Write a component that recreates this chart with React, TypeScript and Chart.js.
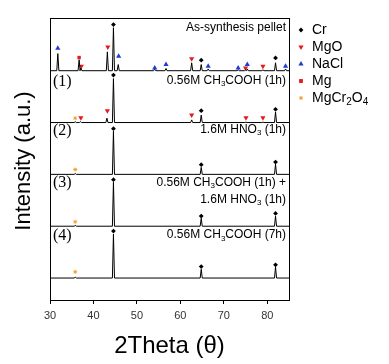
import React, { useEffect, useRef } from "react";
import { Chart, registerables } from "chart.js";

Chart.register(...registerables);

// ---------- data ----------
const xMin = 30;
const xMax = 85;
const xTickValues = [30, 40, 50, 60, 70, 80];
const yMin = -50;
const yMax = 592;

const sampleLabels = [
  ["As-synthesis pellet"],
  ["0.56M CH₃COOH (1h)"],
  ["1.6M HNO₃ (1h)"],
  ["0.56M CH₃COOH (1h) +", "1.6M HNO₃ (1h)"],
  ["0.56M CH₃COOH (7h)"],
];
const sampleNumbers = ["", "(1)", "(2)", "(3)", "(4)"];
const sampleOffsets = [472, 354, 236, 118, 0];

// peaks: [2theta, relative intensity]
const peaksAsSynth: [number, number][] = [
  [31.8, 39], [36.7, 25], [37.1, 6], [43.2, 43], [44.6, 98], [45.7, 14],
  [54.1, 3], [56.7, 5], [62.6, 18], [64.8, 14], [66.4, 4], [73.3, 2],
  [75.0, 2], [75.4, 4], [79.0, 2], [81.9, 18], [84.2, 4],
];
const peaksS1: [number, number][] = [
  [35.8, 2], [37.0, 2], [43.1, 10], [44.6, 100], [62.6, 6], [64.8, 17],
  [75.1, 1], [79.0, 1], [81.9, 24],
];
const peaksS2: [number, number][] = [[35.8, 2], [44.6, 98], [64.8, 16], [81.9, 23]];
const peaksS3: [number, number][] = [[35.8, 2], [44.6, 100], [64.8, 18], [81.9, 23]];
const peaksS4: [number, number][] = [[35.8, 2], [44.6, 100], [64.8, 20], [81.9, 25]];
const samplePeaks = [peaksAsSynth, peaksS1, peaksS2, peaksS3, peaksS4];

// phase markers: [sample index, 2theta, height above baseline]
const markersCr: [number, number, number][] = [
  [0, 44.6, 105], [0, 64.8, 24], [0, 81.9, 29],
  [1, 44.6, 108], [1, 64.8, 27], [1, 81.9, 30],
  [2, 44.6, 104], [2, 64.8, 22], [2, 81.9, 28],
  [3, 44.6, 106], [3, 64.8, 23], [3, 81.9, 29],
  [4, 44.6, 107], [4, 64.8, 26], [4, 81.9, 30],
];
const markersMgO: [number, number, number][] = [
  [0, 37.2, 10], [0, 43.3, 54], [0, 62.6, 27], [0, 75.0, 6], [0, 79.0, 10],
  [1, 37.1, 11], [1, 43.2, 27], [1, 62.6, 17], [1, 75.1, 11], [1, 79.0, 11],
];
const markersNaCl: [number, number, number][] = [
  [0, 31.8, 51], [0, 45.8, 33], [0, 54.1, 6], [0, 56.7, 14], [0, 66.4, 10],
  [0, 73.3, 6], [0, 75.4, 14], [0, 84.2, 10],
];
const markersMg: [number, number, number][] = [[0, 36.7, 30]];
const markersMgCr2O4: [number, number, number][] = [
  [1, 35.8, 10], [2, 35.8, 11], [3, 35.8, 10], [4, 35.8, 14],
];

const phaseNames = ["Cr", "MgO", "NaCl", "Mg", "MgCr₂O₄"];
const phaseColors = ["#000000", "#e41a1c", "#1f3bd1", "#e41a1c", "#f5a033"];
const phaseStyles = ["rectRot", "triangle", "triangle", "rect", "star"];
const phaseRotations = [0, 180, 0, 0, 0];
const phaseRadii = [2.4, 3, 3, 2.4, 2];
const phaseMarkers = [markersCr, markersMgO, markersNaCl, markersMg, markersMgCr2O4];

// ---------- helpers ----------
const PEAK_HALF_WIDTH = 0.24;
const SANS = '"Liberation Sans", Arial, sans-serif';
const SERIF = '"Liberation Serif", "Times New Roman", serif';

function buildPattern(peaks: [number, number][], offset: number) {
  const pts: { x: number; y: number }[] = [{ x: xMin, y: offset }];
  [...peaks].sort((a, b) => a[0] - b[0]).forEach(([p, h]) => {
    pts.push({ x: p - PEAK_HALF_WIDTH, y: offset });
    pts.push({ x: p, y: offset + h });
    pts.push({ x: p + PEAK_HALF_WIDTH, y: offset });
  });
  pts.push({ x: xMax, y: offset });
  return pts;
}

const SUBS = "₀₁₂₃₄₅₆₇₈₉";
function splitSubs(s: string) {
  const segs: { t: string; sub: boolean }[] = [];
  for (const ch of s) {
    const idx = SUBS.indexOf(ch);
    const sub = idx >= 0;
    const c = sub ? String(idx) : ch;
    const last = segs[segs.length - 1];
    if (last && last.sub === sub) last.t += c;
    else segs.push({ t: c, sub });
  }
  return segs;
}

function drawRich(
  ctx: CanvasRenderingContext2D,
  s: string,
  x: number,
  y: number,
  size: number,
  align: "left" | "right"
) {
  const segs = splitSubs(s);
  const subSize = Math.round(size * 0.68);
  const widths = segs.map((g) => {
    ctx.font = `${g.sub ? subSize : size}px ${SANS}`;
    return ctx.measureText(g.t).width;
  });
  const total = widths.reduce((a, b) => a + b, 0);
  let cx = align === "right" ? x - total : x;
  ctx.textAlign = "left";
  ctx.textBaseline = "middle";
  segs.forEach((g, i) => {
    ctx.font = `${g.sub ? subSize : size}px ${SANS}`;
    ctx.fillText(g.t, cx, g.sub ? y + size * 0.3 : y);
    cx += widths[i];
  });
}

function drawPointStyle(
  ctx: CanvasRenderingContext2D,
  style: string,
  r: number,
  x: number,
  y: number,
  rot: number
) {
  ctx.save();
  ctx.translate(x, y);
  ctx.rotate((rot * Math.PI) / 180);
  ctx.beginPath();
  if (style === "rectRot") {
    ctx.moveTo(0, -r);
    ctx.lineTo(r, 0);
    ctx.lineTo(0, r);
    ctx.lineTo(-r, 0);
    ctx.closePath();
    ctx.fill();
  } else if (style === "triangle") {
    ctx.moveTo(0, -r);
    ctx.lineTo(r * 0.866, r * 0.5);
    ctx.lineTo(-r * 0.866, r * 0.5);
    ctx.closePath();
    ctx.fill();
  } else if (style === "rect") {
    ctx.rect(-r * 0.8, -r * 0.8, r * 1.6, r * 1.6);
    ctx.fill();
  } else if (style === "star") {
    for (let k = 0; k < 4; k++) {
      const a = (k * Math.PI) / 4;
      ctx.moveTo(Math.cos(a) * r, Math.sin(a) * r);
      ctx.lineTo(-Math.cos(a) * r, -Math.sin(a) * r);
    }
    ctx.stroke();
  }
  ctx.restore();
}

const overlayPlugin = {
  id: "overlay",
  afterDraw(chart: any) {
    const { ctx, chartArea } = chart;
    const ys = chart.scales.y;
    ctx.save();
    // frame
    ctx.strokeStyle = "#000";
    ctx.lineWidth = 1;
    ctx.strokeRect(
      Math.round(chartArea.left) + 0.5,
      Math.round(chartArea.top) + 0.5,
      Math.round(chartArea.right - chartArea.left),
      Math.round(chartArea.bottom - chartArea.top)
    );
    ctx.fillStyle = "#000";
    // sample labels
    const labelShift = [-43, -42, -45, -44, -43];
    sampleOffsets.forEach((off, i) => {
      const base = ys.getPixelForValue(off);
      sampleLabels[i].forEach((line, j) => {
        drawRich(ctx, line, chartArea.right - 3, base + labelShift[i] + j * 17, 12, "right");
      });
      if (sampleNumbers[i]) {
        ctx.font = `16px ${SERIF}`;
        ctx.textAlign = "left";
        ctx.textBaseline = "middle";
        ctx.fillText(sampleNumbers[i], chartArea.left + 3, base + labelShift[i] + 1);
      }
    });
    // legend
    phaseNames.forEach((name, i) => {
      const ly = 30 + i * 17;
      ctx.save();
      ctx.fillStyle = phaseColors[i];
      ctx.strokeStyle = phaseColors[i];
      ctx.lineWidth = 1;
      drawPointStyle(ctx, phaseStyles[i], phaseRadii[i], 301, ly, phaseRotations[i]);
      ctx.restore();
      ctx.fillStyle = "#000";
      drawRich(ctx, name, 312, ly, 14, "left");
    });
    // axis titles
    ctx.font = `24px ${SANS}`;
    ctx.textAlign = "center";
    ctx.textBaseline = "middle";
    ctx.fillText("2Theta (θ)", (chartArea.left + chartArea.right) / 2, 346);
    ctx.save();
    ctx.translate(24, (chartArea.top + chartArea.bottom) / 2 + 2);
    ctx.rotate(-Math.PI / 2);
    ctx.font = `22px ${SANS}`;
    ctx.fillText("Intensity (a.u.)", 0, 0);
    ctx.restore();
    ctx.restore();
  },
};

export default function App() {
  const ref = useRef<HTMLCanvasElement | null>(null);
  useEffect(() => {
    if (!ref.current) return;
    const lineSets = samplePeaks.map((pk, i) => ({
      type: "scatter" as const,
      data: buildPattern(pk, sampleOffsets[i]),
      showLine: true,
      borderColor: "#000",
      borderWidth: 1,
      pointRadius: 0,
      tension: 0,
    }));
    const markerSets = phaseMarkers.map((list, i) => ({
      type: "scatter" as const,
      data: list.map(([s, x, h]) => ({ x, y: sampleOffsets[s] + h })),
      showLine: false,
      pointStyle: phaseStyles[i] as any,
      pointRadius: phaseRadii[i],
      pointRotation: phaseRotations[i],
      backgroundColor: phaseColors[i],
      borderColor: phaseColors[i],
      borderWidth: phaseStyles[i] === "star" ? 1 : 0,
    }));
    const chart = new Chart(ref.current, {
      type: "scatter",
      data: { datasets: [...lineSets, ...markerSets] as any },
      options: {
        animation: false,
        responsive: false,
        layout: { padding: { left: 50, right: 100, top: 18, bottom: 0 } },
        plugins: { legend: { display: false }, tooltip: { enabled: false } },
        scales: {
          x: {
            type: "linear",
            min: xMin,
            max: xMax,
            afterBuildTicks: (scale: any) => {
              scale.ticks = xTickValues.map((v) => ({ value: v }));
            },
            afterFit: (scale: any) => {
              scale.height = 64;
            },
            grid: {
              drawOnChartArea: false,
              drawTicks: true,
              tickLength: 4,
              color: "#000",
            },
            border: { display: true, color: "#000" },
            ticks: {
              color: "#333",
              font: { family: SANS, size: 11 },
              padding: 5,
              maxRotation: 0,
            },
          },
          y: {
            type: "linear",
            min: yMin,
            max: yMax,
            display: false,
          },
        },
      },
      plugins: [overlayPlugin],
    });
    return () => chart.destroy();
  }, []);
  return (
    <div style={{ position: "fixed", left: 0, top: 0, width: 389, height: 364, background: "#fff" }}>
      <canvas ref={ref} width={389} height={364} style={{ display: "block" }} />
    </div>
  );
}
